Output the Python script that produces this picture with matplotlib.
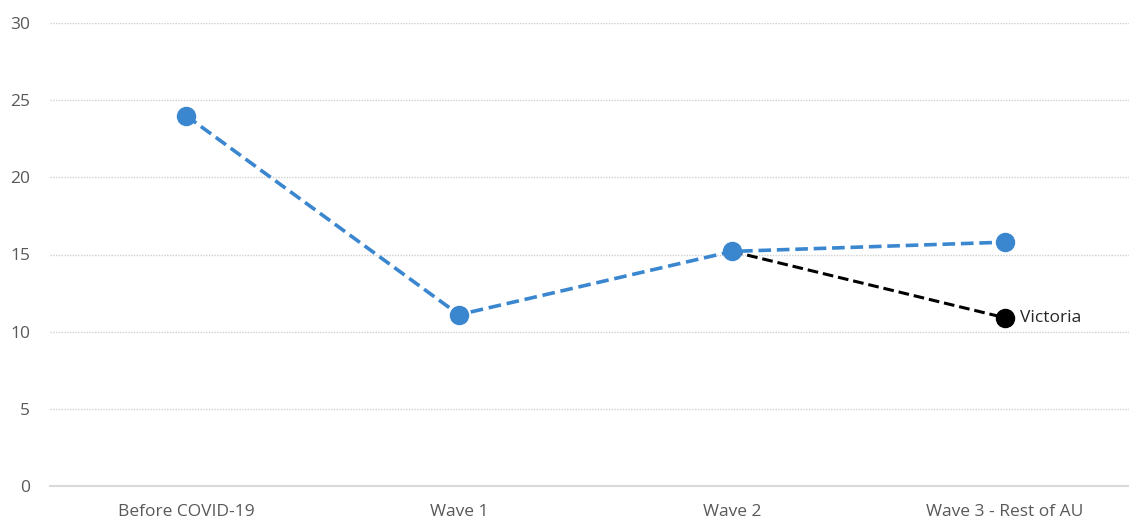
import matplotlib.pyplot as plt
import numpy as np

categories = ['Before COVID-19', 'Wave 1', 'Wave 2', 'Wave 3 - Rest of AU']
au_values = [24.0, 11.1, 15.2, 15.8]
vic_cats = ['Wave 2', 'Wave 3 - Rest of AU']
vic_values = [15.2, 10.9]

blue = '#3a87d0'
plt.rcParams['font.family'] = ['Open Sans', 'DejaVu Sans']

fig = plt.figure(figsize=(11.29, 5.19), dpi=100)
ax = fig.add_axes([49.5 / 1129, 33 / 519, 1092 / 1129, 463 / 519])

x = np.arange(len(categories))
xv = [categories.index(c) for c in vic_cats]

ax.plot(xv, vic_values, color='black', lw=2.2, ls=(0, (3.5, 1.6)), zorder=2)
ax.plot(xv[-1], vic_values[-1], 'o', color='black', ms=13, zorder=4)
ax.plot(x, au_values, color=blue, lw=2.6, ls=(0, (3.5, 1.6)), marker='o',
        ms=13, zorder=3)
ax.text(xv[-1] + 0.055, vic_values[-1], 'Victoria', va='center', ha='left',
        fontsize=12.5, color='#262626')

ax.set_xlim(-0.5, 3.5)
ax.set_ylim(0, 30)
ax.set_yticks(range(0, 31, 5))
ax.set_xticks(x)
ax.set_xticklabels(categories)
ax.tick_params(length=0, labelsize=12.5, colors='#595959')
ax.tick_params(axis='y', pad=14)
ax.tick_params(axis='x', pad=13)
ax.yaxis.grid(True, color='#d0d0d0', ls=(0, (1, 1)), lw=1)
ax.set_axisbelow(True)
for s in ['top', 'right', 'left']:
    ax.spines[s].set_visible(False)
ax.spines['bottom'].set_color('#d9d9d9')
ax.spines['bottom'].set_linewidth(1.5)

fig.savefig('out.png', dpi=100)
